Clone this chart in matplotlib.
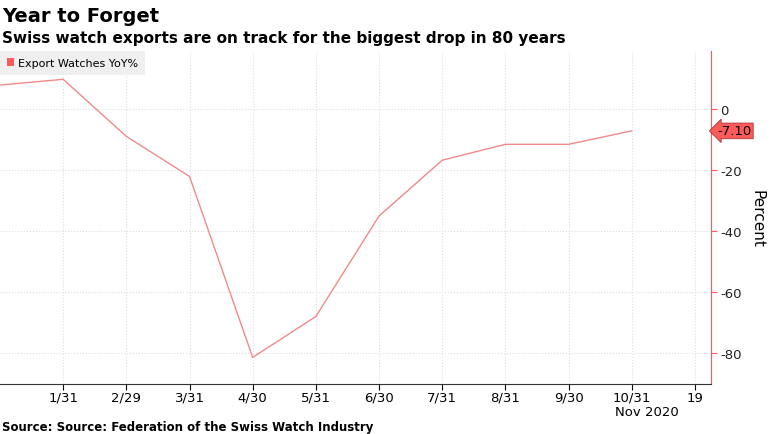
import matplotlib
matplotlib.use("Agg")
import matplotlib.pyplot as plt
from matplotlib.patches import Patch

x_labels = ["1/31","2/29","3/31","4/30","5/31","6/30","7/31","8/31","9/30","10/31","19"]
values = [7.9, 9.8, -8.9, -22.0, -81.3, -67.9, -35.0, -16.7, -11.5, -11.5, -7.1]
yticks = [0, -20, -40, -60, -80]

red = "#ff5a5a"
fig = plt.figure(figsize=(7.75, 4.35), dpi=100)
ax = fig.add_axes([0, 0.115, 0.917, 0.765])
xs = list(range(len(values)))
ax.plot(xs, values, color="#f08a8a", lw=1)
ax.set_xlim(0, 11.25)
ax.set_ylim(-90, 19)
ax.set_xticks(range(1, 12))
ax.set_xticklabels(x_labels, fontsize=9.5)
ax.yaxis.tick_right()
ax.yaxis.set_label_position("right")
ax.set_yticks(yticks)
ax.set_yticklabels([str(v) for v in yticks], fontsize=9.5)
ax.set_ylabel("Percent", fontsize=11, rotation=270, labelpad=16)
ax.grid(True, ls=":", color="#dddddd", lw=0.8)
for s in ["top", "left"]:
    ax.spines[s].set_visible(False)
ax.spines["bottom"].set_color("#333333")
ax.spines["right"].set_color(red)
ax.tick_params(axis="y", colors="#222222", length=4, pad=3)
ax.tick_params(axis="y", color=red)
ax.tick_params(axis="x", length=4, pad=1)
ax.annotate(f"{values[-1]:.2f}", xy=(1.0, values[-1]), xycoords=("axes fraction", "data"),
            xytext=(5, 0), textcoords="offset points", va="center", ha="left", fontsize=9.5,
            bbox=dict(boxstyle="larrow,pad=0.1", fc=red, ec="#aa3333", lw=0.6))
leg = ax.legend(handles=[Patch(fc=red, ec="none", label="Export Watches YoY%")],
                loc="upper left", bbox_to_anchor=(0, 1), fontsize=8, frameon=True,
                fancybox=False, handlelength=0.7, handleheight=0.7, handletextpad=0.3,
                borderaxespad=0, borderpad=0.6)
leg.get_frame().set_facecolor("#efefef")
leg.get_frame().set_edgecolor("none")
leg.get_frame().set_alpha(1)
fig.text(0.003, 0.962, "Year to Forget", fontsize=14, fontweight="bold", va="center")
fig.text(0.003, 0.912, "Swiss watch exports are on track for the biggest drop in 80 years", fontsize=11, fontweight="bold", va="center")
fig.text(0.793, 0.052, "Nov 2020", fontsize=9.5, va="center")
fig.text(0.003, 0.017, "Source: Source: Federation of the Swiss Watch Industry", fontsize=8.5, fontweight="bold", va="center")
fig.savefig("out.png", dpi=100)
